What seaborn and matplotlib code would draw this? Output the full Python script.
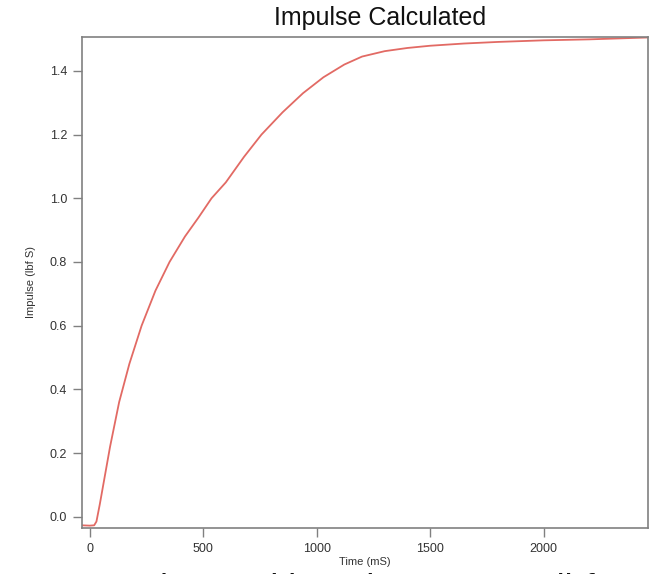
import matplotlib
matplotlib.use("Agg")
import matplotlib.pyplot as plt
import seaborn as sns
import pandas as pd

# impulse curve (time in ms, impulse in lbf s)
time_ms = [-35, 0, 20, 30, 45, 65, 90, 130, 175, 229, 290, 352, 420, 480, 537,
           600, 680, 757, 850, 940, 1030, 1122, 1200, 1300, 1400, 1500, 1650,
           1800, 2000, 2200, 2462]
impulse = [-0.027, -0.028, -0.027, -0.015, 0.040, 0.120, 0.220, 0.360, 0.480,
           0.600, 0.710, 0.800, 0.880, 0.940, 1.000, 1.050, 1.130, 1.200, 1.270,
           1.330, 1.380, 1.420, 1.445, 1.462, 1.472, 1.479, 1.486, 1.491, 1.496,
           1.499, 1.505]

x_ticks = [0, 500, 1000, 1500, 2000]
y_ticks = [0.0, 0.2, 0.4, 0.6, 0.8, 1.0, 1.2, 1.4]

df = pd.DataFrame({"Time (mS)": time_ms, "Impulse (lbf S)": impulse})

sns.set_theme(style="ticks")
plt.rcParams["font.family"] = ["Liberation Sans", "DejaVu Sans"]

fig = plt.figure(figsize=(6.52, 5.74), dpi=100)
ax = fig.add_axes([0.1253, 0.0801, 0.9946 - 0.1253, 0.9364 - 0.0801])

sns.lineplot(data=df, x="Time (mS)", y="Impulse (lbf S)", ax=ax,
             color="#e26a64", linewidth=1.3)

ax.set_xlim(-35, 2462)
ax.set_ylim(-0.0355, 1.508)
ax.set_xticks(x_ticks)
ax.set_xticklabels([str(t) for t in x_ticks])
ax.set_yticks(y_ticks)
ax.set_yticklabels([f"{t:.1f}" for t in y_ticks])

for s in ax.spines.values():
    s.set_visible(True)
    s.set_color("#808080")
    s.set_linewidth(1.2)

ax.tick_params(axis="both", direction="out", length=6.5, width=1.0,
               color="#808080", labelsize=9, labelcolor="#333333", pad=4)
ax.set_xlabel("Time (mS)", fontsize=8, color="#333333", labelpad=2)
ax.set_ylabel("Impulse (lbf S)", fontsize=8, color="#333333", labelpad=10)

fig.text(380 / 652, 1 - 18 / 574, "Impulse Calculated", ha="center", va="center",
         fontsize=18, color="#111111")
fig.text(380 / 652, 1 - 590 / 574, "The total impulse was 1.5 lbf s",
         ha="center", va="center", fontsize=26, color="#111111")

fig.savefig("out.png", dpi=100)
